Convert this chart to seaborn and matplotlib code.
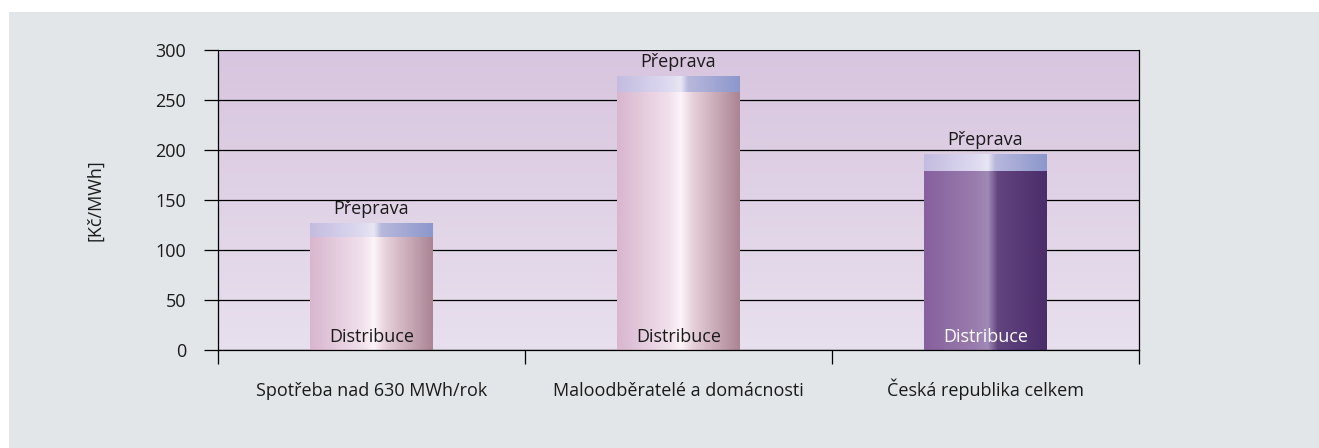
import numpy as np
import matplotlib
matplotlib.use("Agg")
import matplotlib.pyplot as plt
import matplotlib.colors as mcolors
from matplotlib.patches import Rectangle
import seaborn as sns

# ---- data ----
categories = ["Spotřeba nad 630 MWh/rok", "Maloodběratelé a domácnosti", "Česká republika celkem"]
distribuce = [112, 257, 178]
preprava = [14, 16, 17]
yticks = [0, 50, 100, 150, 200, 250, 300]
ylabel = "[Kč/MWh]"
top_label = "Přeprava"
bottom_label = "Distribuce"

totals = [d + p for d, p in zip(distribuce, preprava)]

sns.set_style("white")
plt.rcParams["font.family"] = ["Open Sans", "DejaVu Sans"]
FS = 13
plt.rcParams["font.size"] = FS

W, H = 1319, 448
fig = plt.figure(figsize=(W / 100, H / 100), dpi=100, facecolor="white")
fig.patches.append(Rectangle((9 / W, 0), 1 - 9 / W, 1 - 12 / H, transform=fig.transFigure,
                             facecolor="#e3e6e9", edgecolor="none", zorder=-10))

ax = fig.add_axes([218 / W, 98 / H, 921 / W, 300 / H])
ax.set_facecolor("none")


def gradient(stops, colors, n=256):
    rgb = np.array([mcolors.to_rgb(c) for c in colors])
    t = np.linspace(0, 1, n)
    return np.stack([np.interp(t, stops, rgb[:, i]) for i in range(3)], axis=-1)


pink = ([0, 0.42, 0.52, 0.62, 1], ["#d8b6cf", "#f1e0ec", "#fdf4f8", "#e6d0da", "#ab8492"])
blue = ([0, 0.42, 0.52, 0.58, 1], ["#c3bce0", "#dedaf0", "#e8e6f4", "#b8b8dc", "#8c97cc"])
purple = ([0, 0.42, 0.52, 0.6, 1], ["#86609e", "#9a7cae", "#a08ab6", "#62447f", "#4a2d6a"])
bar_grads = [pink, pink, purple]

sns.barplot(x=categories, y=totals, hue=categories, legend=False,
            palette=["#c3bce0"] * 3, width=0.4, ax=ax, saturation=1)
sns.barplot(x=categories, y=distribuce, hue=categories, legend=False,
            palette=["#d8b6cf", "#d8b6cf", "#86609e"], width=0.4, ax=ax, saturation=1)

patches = list(ax.patches)
top_patches = patches[:3]
dist_patches = patches[3:6]

for p in top_patches:
    g = gradient(*blue)[None, :, :]
    ax.imshow(g, extent=[p.get_x(), p.get_x() + p.get_width(), p.get_y(), p.get_y() + p.get_height()],
              aspect="auto", zorder=2, interpolation="bilinear")
    p.set_visible(False)
for p, gs in zip(dist_patches, bar_grads):
    g = gradient(*gs)[None, :, :]
    ax.imshow(g, extent=[p.get_x(), p.get_x() + p.get_width(), p.get_y(), p.get_y() + p.get_height()],
              aspect="auto", zorder=3, interpolation="bilinear")
    p.set_visible(False)

# plot-area background gradient (vertical)
bg = gradient([0, 1], ["#e8e0ee", "#d8c5df"])[:, None, :]
ax.imshow(bg, extent=[-0.5, 2.5, 0, 300], origin="lower", aspect="auto", zorder=0,
          interpolation="bilinear")

# labels on bars
for i, (p, tot) in enumerate(zip(top_patches, totals)):
    xc = p.get_x() + p.get_width() / 2
    ax.annotate(top_label, (xc, tot), xytext=(0, 7), textcoords="offset points",
                ha="center", va="baseline", fontsize=FS, color="#1a1a1a", zorder=5)
    ax.annotate(bottom_label, (xc, 0), xytext=(0, 6), textcoords="offset points",
                ha="center", va="baseline", fontsize=FS,
                color="white" if i == 2 else "#1a1a1a", zorder=5)

ax.set_xlim(-0.5, 2.5)
ax.set_ylim(0, 300)
ax.set_yticks(yticks)
ax.set_yticklabels([str(v) for v in yticks])
ax.yaxis.grid(True, color="black", linewidth=0.9, zorder=1)
for line in ax.get_ygridlines():
    line.set_zorder(1)
ax.set_xlabel("")
ax.set_ylabel("")

ax.tick_params(axis="y", which="major", direction="out", length=10, width=0.9,
               color="black", pad=13, labelsize=FS, labelcolor="#1a1a1a", left=True)
ax.tick_params(axis="x", which="major", length=0, pad=33, labelsize=FS, labelcolor="#1a1a1a")
for lab in ax.get_xticklabels():
    lab.set_verticalalignment("baseline")
ax.set_xticks([-0.5, 0.5, 1.5, 2.5], minor=True)
ax.tick_params(axis="x", which="minor", direction="out", length=10, width=0.9,
               color="black", bottom=True)

for s in ["left", "bottom", "right"]:
    ax.spines[s].set_visible(True)
    ax.spines[s].set_color("black")
    ax.spines[s].set_linewidth(0.9)
    ax.spines[s].set_zorder(6)
ax.spines["top"].set_visible(False)

fig.text(95 / W, 1 - 200 / H, ylabel, rotation=90, ha="center", va="center",
         fontsize=FS, color="#1a1a1a")

fig.savefig("out.png", dpi=100, facecolor=fig.get_facecolor())
